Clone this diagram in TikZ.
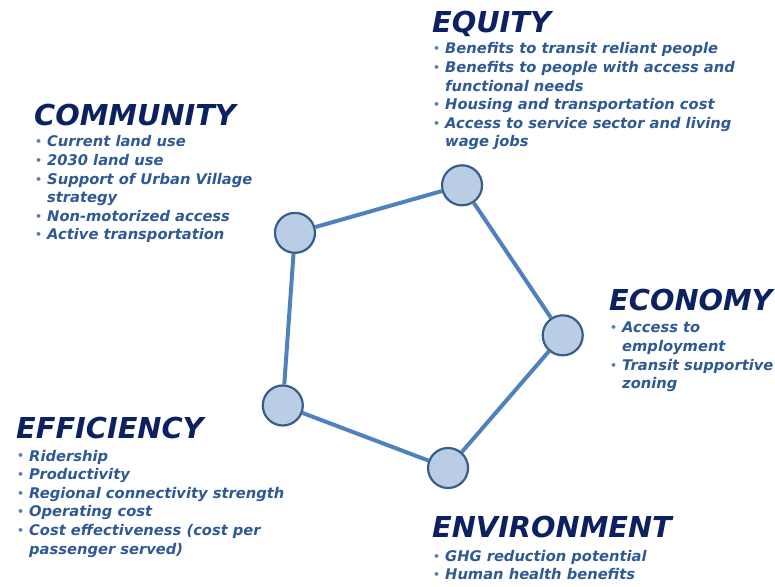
\documentclass[tikz,border=0pt]{standalone}
\usepackage{fontspec}
\setmainfont{DejaVu Sans}
\usepackage{tikz}

\definecolor{titleblue}{HTML}{0B2162}
\definecolor{itemblue}{HTML}{2F5993}
\definecolor{dotblue}{HTML}{5E80B0}
\definecolor{ringfill}{HTML}{B9CDE5}
\definecolor{ringdraw}{HTML}{385D8A}
\definecolor{linkblue}{HTML}{4F81BD}

\newcommand{\bul}{\makebox[12pt][l]{\color{dotblue}\fontsize{11}{11}\selectfont\raisebox{1pt}{•}}}
\newcommand{\gap}{\hspace*{12pt}}

\begin{document}
\begin{tikzpicture}[
                x=1pt, y=1pt,
                hub/.style={
                  draw=ringdraw,
                  line width=2.2pt,
                  circle,
                  fill=ringfill,
                  minimum size=40pt,
                  inner sep=0pt,
                },
                link/.style={linkblue, line width=4pt},
                head/.style={
                  anchor=base west,
                  inner sep=0pt,
                  text=titleblue,
                  font=\fontsize{28.8}{28.8}\selectfont\bfseries\itshape,
                },
                items/.style={
                  anchor=base west,
                  inner sep=0pt,
                  text=itemblue,
                  font=\fontsize{14.7}{18.6}\selectfont\bfseries\itshape,
                },
              ]
              \useasboundingbox (0,0) rectangle (775,586);
              \begin{scope}[shift={(410,260)}]
              \node[hub] at (69.7:150) (equity) {} ;
              \node[hub] at (141:148) (community) {} ;
              \node[hub] at (212:150) (efficiency) {} ;
              \node[hub] at (285:147) (environment) {} ;
              \node[hub] at (356.5:153) (economy) {} ;
              \end{scope}
              \draw[link] (equity)--(economy) ;
              \draw[link] (economy)--(environment) ;
              \draw[link] (environment)--(efficiency) ;
              \draw[link] (efficiency)--(community) ;
              \draw[link] (community)--(equity) ;
              % texts
              \node[head] at (432,553) (equityhead) {EQUITY} ;
              \node[items] at (433,532) (equitylist) {\parbox[t]{340pt}{\raggedright
                \bul Benefits to transit reliant people\\
                \bul Benefits to people with access and\\
                \gap functional needs\\
                \bul Housing and transportation cost\\
                \bul Access to service sector and living\\
                \gap wage jobs}} ;
              \node[head] at (34,460) (communityhead) {COMMUNITY} ;
              \node[items] at (35,439) (communitylist) {\parbox[t]{260pt}{\raggedright
                \bul Current land use\\
                \bul 2030 land use\\
                \bul Support of Urban Village\\
                \gap strategy\\
                \bul Non-motorized access\\
                \bul Active transportation}} ;
              \node[head] at (609,275) (economyhead) {ECONOMY} ;
              \node[items] at (610,253) (economylist) {\parbox[t]{200pt}{\raggedright
                \bul Access to\\
                \gap employment\\
                \bul Transit supportive\\
                \gap zoning}} ;
              \node[head] at (16,147) (efficiencyhead) {EFFICIENCY} ;
              \node[items] at (17,125) (efficiencylist) {\parbox[t]{300pt}{\raggedright
                \bul Ridership\\
                \bul Productivity\\
                \bul Regional connectivity strength\\
                \bul Operating cost\\
                \bul Cost effectiveness (cost per\\
                \gap passenger served)}} ;
              \node[head] at (432,49) (environmenthead) {ENVIRONMENT} ;
              \node[items] at (433,25) (environmentlist) {\parbox[t]{300pt}{\raggedright
                \bul GHG reduction potential\\
                \bul Human health benefits}} ;
              \end{tikzpicture}
\end{document}
